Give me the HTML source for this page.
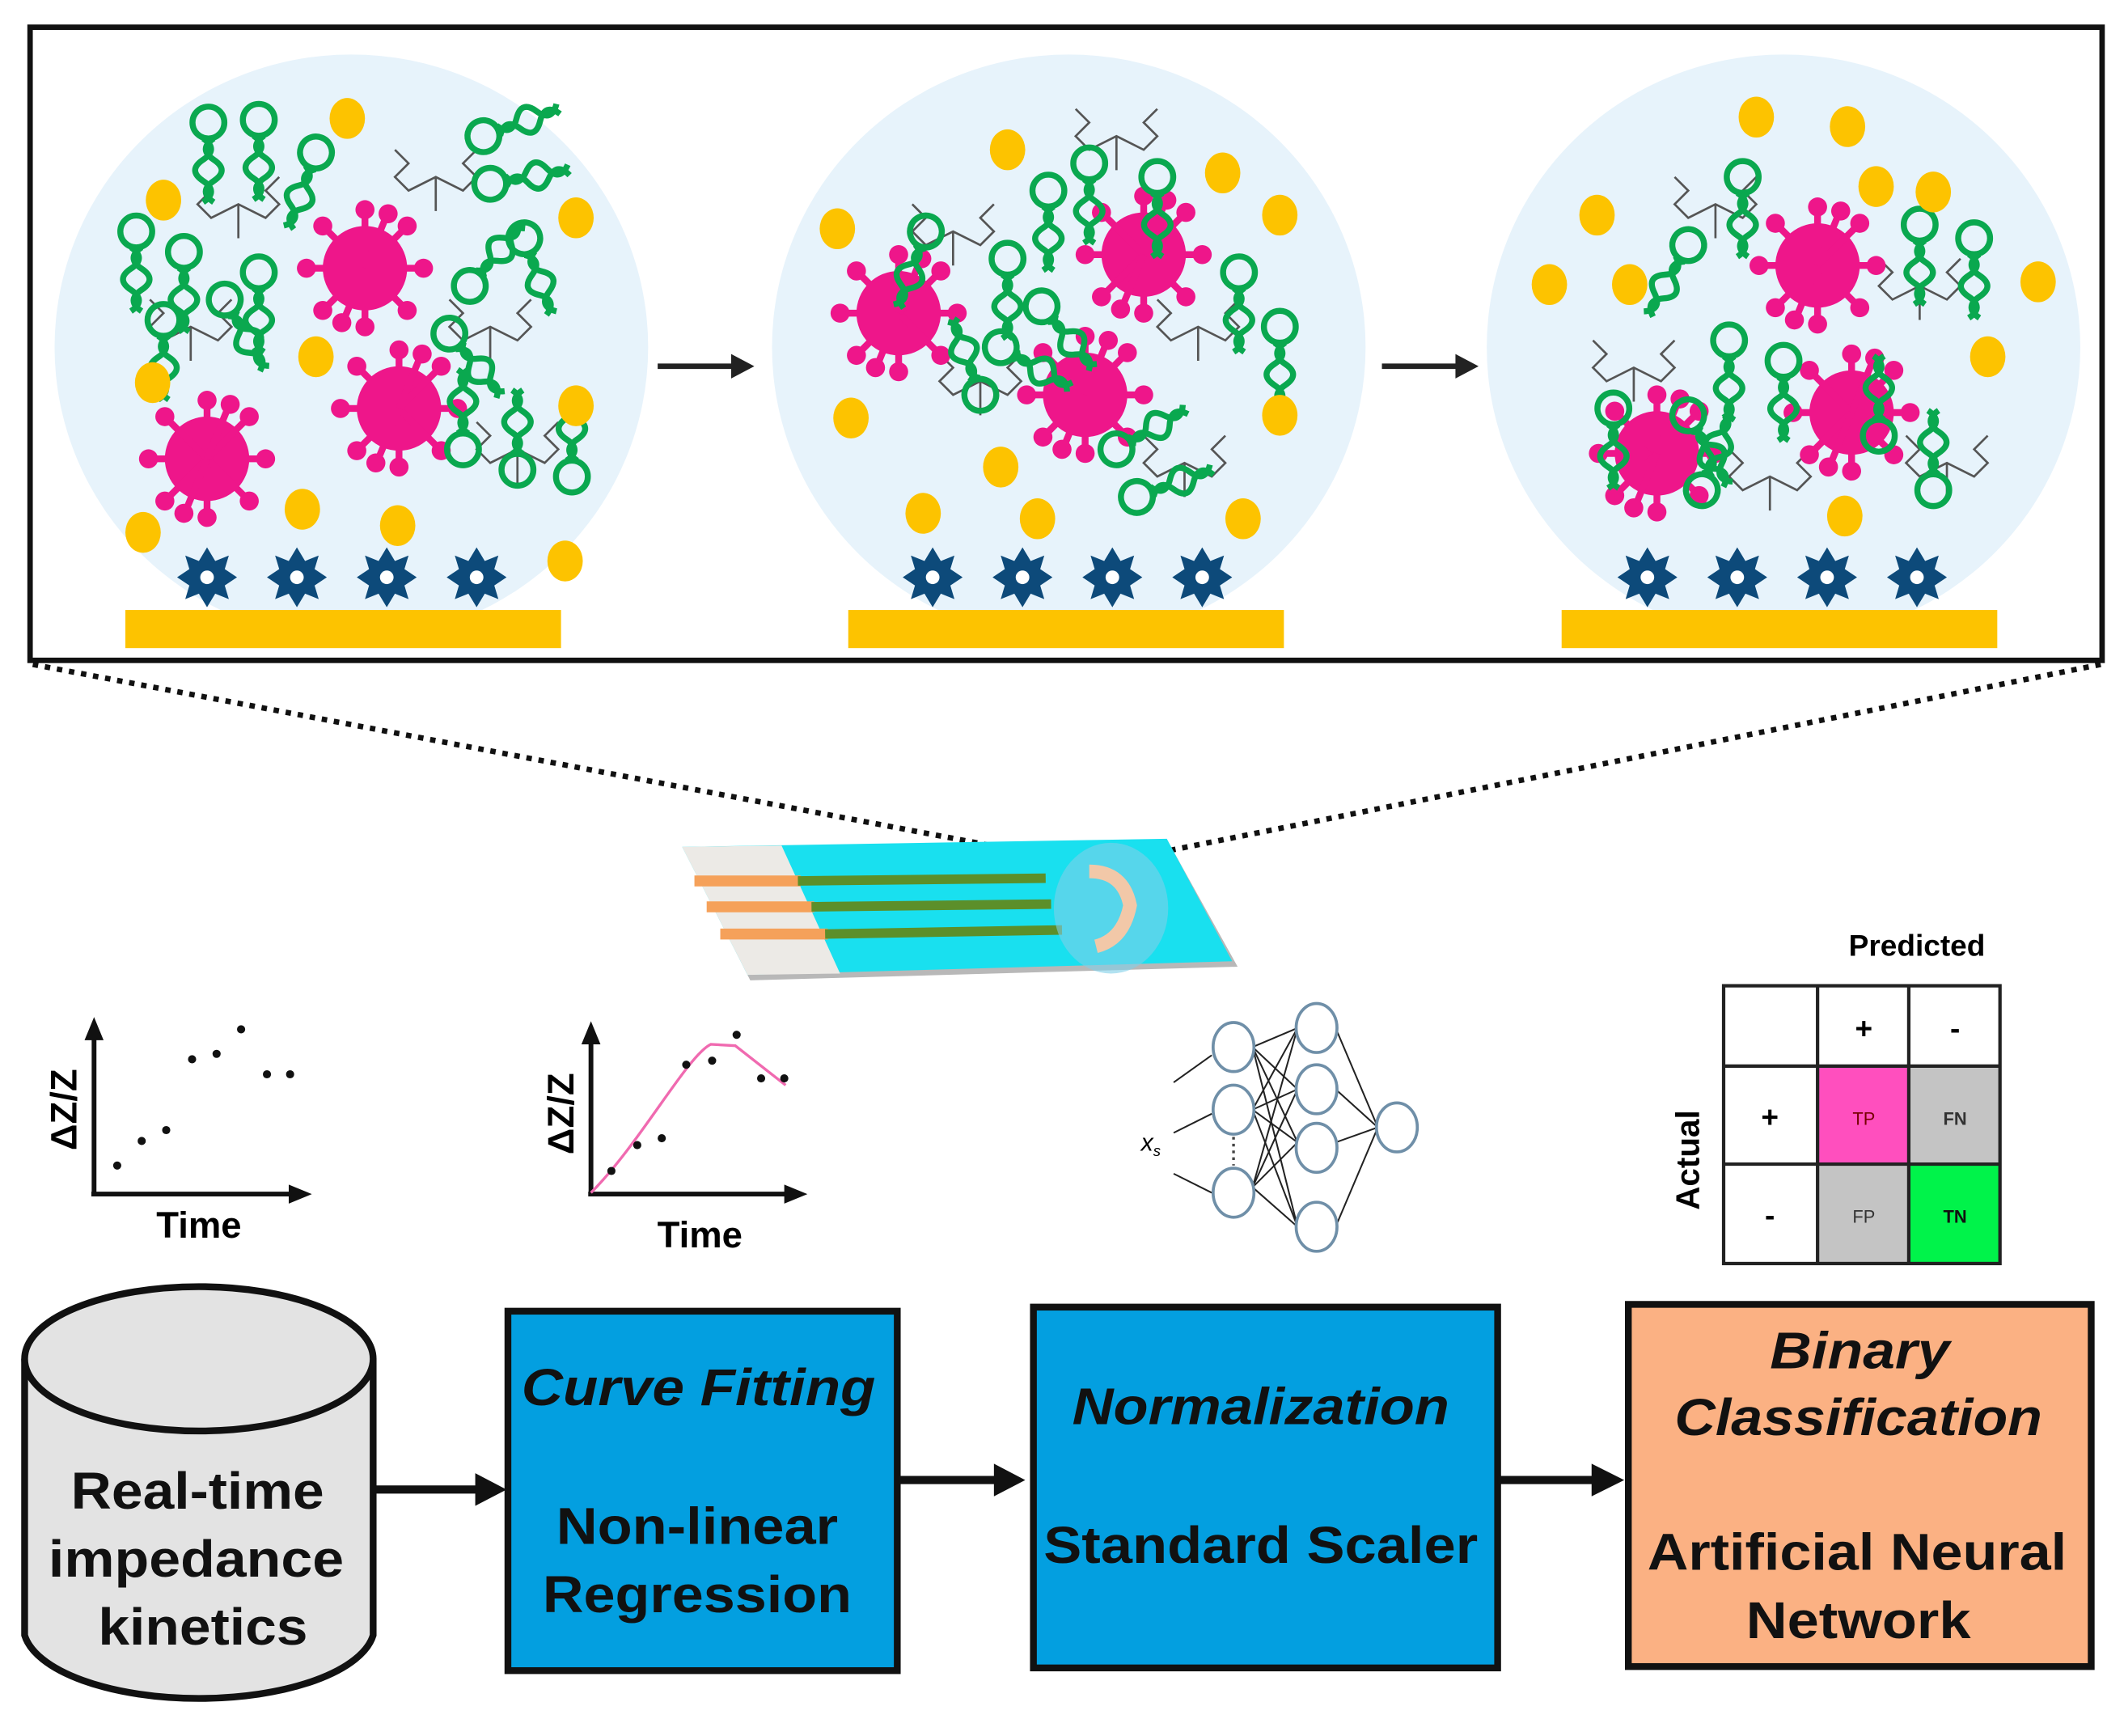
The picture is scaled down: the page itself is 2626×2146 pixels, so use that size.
<!DOCTYPE html>
<html><head><meta charset="utf-8"><style>
html,body{margin:0;padding:0;background:#fff;}
svg{display:block;}
text{font-family:"Liberation Sans",Arial,sans-serif;}
</style></head><body>
<svg width="2626" height="2146" viewBox="0 0 1560 1275" xmlns="http://www.w3.org/2000/svg">
<defs>
<g id="v">
 <g fill="#ee168a">
  <circle r="31"/>
  <g stroke="#ee168a" stroke-width="5">
   <line x1="0" y1="0" x2="0" y2="-42"/><line x1="0" y1="0" x2="0" y2="42"/>
   <line x1="0" y1="0" x2="-42" y2="0"/><line x1="0" y1="0" x2="42" y2="0"/>
   <line x1="0" y1="0" x2="30" y2="30"/><line x1="0" y1="0" x2="-30" y2="30"/>
   <line x1="0" y1="0" x2="30" y2="-30"/><line x1="0" y1="0" x2="-30" y2="-30"/>
   <line x1="0" y1="0" x2="16" y2="-39"/><line x1="0" y1="0" x2="-16" y2="39"/>
  </g>
  <circle cx="0" cy="-43" r="7"/><circle cx="0" cy="43" r="7"/><circle cx="-43" cy="0" r="7"/><circle cx="43" cy="0" r="7"/>
  <circle cx="31" cy="31" r="7"/><circle cx="-31" cy="31" r="7"/><circle cx="31" cy="-31" r="7"/><circle cx="-31" cy="-31" r="7"/>
  <circle cx="17" cy="-40" r="7"/><circle cx="-17" cy="40" r="7"/>
 </g>
</g>
<g id="a0" fill="none" stroke="#0aa84f" stroke-width="3.4">
 <circle cx="0" cy="0" r="9"/>
 <path d="M-3,9 q9,6 0,12 q-9,6 0,12 q9,6 0,12"/>
 <path d="M3,9 q-9,6 0,12 q9,6 0,12 q-9,6 0,12"/>
</g>
<g id="a"><use href="#a0" transform="scale(1.3)"/></g>
<g id="g">
 <polygon fill="#0d4a7a" points="0,-22 6,-12 16,-16 13,-6 22,0 13,6 16,16 6,12 0,22 -6,12 -16,16 -13,6 -22,0 -13,-6 -16,-16 -6,-12"/>
 <circle r="5" fill="#fff"/>
</g>
<g id="au"><ellipse rx="13" ry="15" fill="#fdc300"/></g>
<g id="ln" fill="none" stroke="#555" stroke-width="1.6">
 <path d="M-30,-20 L-20,-10 L-30,0 L-20,10 L0,0 L20,10 L30,0 L20,-10 L30,-20 M0,0 L0,25"/>
</g>
</defs>

<rect x="22" y="20" width="1522" height="465" fill="#fff" stroke="#111" stroke-width="4"/>

<ellipse cx="258" cy="255" rx="218" ry="215" fill="#e7f3fb"/>
<ellipse cx="785" cy="255" rx="218" ry="215" fill="#e7f3fb"/>
<ellipse cx="1310" cy="255" rx="218" ry="215" fill="#e7f3fb"/>

<rect x="92" y="448" width="320" height="28" fill="#fdc300"/>
<rect x="623" y="448" width="320" height="28" fill="#fdc300"/>
<rect x="1147" y="448" width="320" height="28" fill="#fdc300"/>

<use href="#g" x="152" y="424"/><use href="#g" x="218" y="424"/><use href="#g" x="284" y="424"/><use href="#g" x="350" y="424"/>
<use href="#g" x="685" y="424"/><use href="#g" x="751" y="424"/><use href="#g" x="817" y="424"/><use href="#g" x="883" y="424"/>
<use href="#g" x="1210" y="424"/><use href="#g" x="1276" y="424"/><use href="#g" x="1342" y="424"/><use href="#g" x="1408" y="424"/>

<use href="#ln" x="175" y="150"/><use href="#ln" x="140" y="240"/><use href="#ln" x="360" y="240"/><use href="#ln" x="320" y="130"/><use href="#ln" x="380" y="330"/>
<use href="#ln" x="700" y="170"/><use href="#ln" x="720" y="280"/><use href="#ln" x="880" y="240"/><use href="#ln" x="820" y="100"/><use href="#ln" x="870" y="340"/>
<use href="#ln" x="1260" y="150"/><use href="#ln" x="1200" y="270"/><use href="#ln" x="1410" y="210"/><use href="#ln" x="1300" y="350"/><use href="#ln" x="1430" y="340"/>

<use href="#v" x="268" y="197"/><use href="#v" x="152" y="337"/><use href="#v" x="293" y="300"/>
<use href="#v" x="660" y="230"/><use href="#v" x="840" y="187"/><use href="#v" x="797" y="290"/>
<use href="#v" x="1335" y="195"/><use href="#v" x="1360" y="303"/><use href="#v" x="1217" y="333"/>

<g>
<use href="#a" x="153" y="90"/><use href="#a" x="190" y="88"/><use href="#a" x="232" y="112" transform="rotate(20 232 112)"/>
<use href="#a" x="100" y="170"/><use href="#a" x="135" y="185"/><use href="#a" x="120" y="235"/><use href="#a" x="165" y="220" transform="rotate(-30 165 220)"/>
<use href="#a" x="355" y="100" transform="rotate(-110 355 100)"/><use href="#a" x="360" y="135" transform="rotate(-100 360 135)"/>
<use href="#a" x="345" y="210" transform="rotate(-140 345 210)"/><use href="#a" x="385" y="175" transform="rotate(-20 385 175)"/><use href="#a" x="330" y="245" transform="rotate(-40 330 245)"/>
<use href="#a" x="340" y="330" transform="rotate(180 340 330)"/><use href="#a" x="380" y="345" transform="rotate(180 380 345)"/><use href="#a" x="420" y="350" transform="rotate(180 420 350)"/>
<use href="#a" x="190" y="200"/>
<use href="#a" x="770" y="140"/><use href="#a" x="800" y="120"/><use href="#a" x="850" y="130"/><use href="#a" x="740" y="190"/><use href="#a" x="680" y="170" transform="rotate(20 680 170)"/>
<use href="#a" x="910" y="200"/><use href="#a" x="940" y="240"/><use href="#a" x="765" y="225" transform="rotate(-40 765 225)"/><use href="#a" x="735" y="255" transform="rotate(-60 735 255)"/>
<use href="#a" x="820" y="330" transform="rotate(-120 820 330)"/><use href="#a" x="835" y="365" transform="rotate(-110 835 365)"/><use href="#a" x="720" y="290" transform="rotate(160 720 290)"/>
<use href="#a" x="1280" y="130"/><use href="#a" x="1410" y="165"/><use href="#a" x="1450" y="175"/><use href="#a" x="1240" y="180" transform="rotate(30 1240 180)"/>
<use href="#a" x="1270" y="250"/><use href="#a" x="1310" y="265"/><use href="#a" x="1185" y="300"/><use href="#a" x="1240" y="305" transform="rotate(-30 1240 305)"/>
<use href="#a" x="1380" y="320" transform="rotate(180 1380 320)"/><use href="#a" x="1420" y="360" transform="rotate(180 1420 360)"/><use href="#a" x="1250" y="360" transform="rotate(200 1250 360)"/>
</g>

<use href="#au" x="255" y="87"/><use href="#au" x="120" y="147"/><use href="#au" x="423" y="160"/><use href="#au" x="232" y="262"/><use href="#au" x="112" y="281"/><use href="#au" x="423" y="298"/><use href="#au" x="222" y="374"/><use href="#au" x="105" y="391"/><use href="#au" x="292" y="386"/><use href="#au" x="415" y="412"/>
<use href="#au" x="740" y="110"/><use href="#au" x="898" y="127"/><use href="#au" x="615" y="168"/><use href="#au" x="940" y="158"/><use href="#au" x="625" y="307"/><use href="#au" x="940" y="305"/><use href="#au" x="735" y="343"/><use href="#au" x="678" y="377"/><use href="#au" x="762" y="381"/><use href="#au" x="913" y="381"/>
<use href="#au" x="1290" y="86"/><use href="#au" x="1357" y="93"/><use href="#au" x="1378" y="137"/><use href="#au" x="1420" y="141"/><use href="#au" x="1173" y="158"/><use href="#au" x="1138" y="209"/><use href="#au" x="1197" y="209"/><use href="#au" x="1497" y="207"/><use href="#au" x="1460" y="262"/><use href="#au" x="1355" y="379"/>

<g stroke="#222" stroke-width="4" fill="#222">
<line x1="483" y1="269" x2="540" y2="269"/><polygon points="537,260 554,269 537,278" stroke="none"/>
<line x1="1015" y1="269" x2="1072" y2="269"/><polygon points="1069,260 1086,269 1069,278" stroke="none"/>
</g>

<g stroke="#111" stroke-width="4" stroke-dasharray="4,5">
<line x1="24" y1="488" x2="765" y2="628"/>
<line x1="1543" y1="488" x2="842" y2="628"/>
</g>

<polygon points="505,628 859,620 909,710 551,720" fill="#b8b8b8"/>
<polygon points="501,622 857,616 905,706 549,716" fill="#19e0ef"/>
<polygon points="501,622 574,621 617,715 549,716" fill="#eceae6"/>
<g stroke="#f5a15a" stroke-width="8"><line x1="510" y1="647" x2="588" y2="647"/><line x1="519" y1="666" x2="598" y2="666"/><line x1="529" y1="686" x2="608" y2="686"/></g>
<g stroke="#5c8f2a" stroke-width="7"><line x1="586" y1="647" x2="768" y2="645"/><line x1="596" y1="666" x2="772" y2="664"/><line x1="606" y1="686" x2="780" y2="683"/></g>
<ellipse cx="816" cy="667" rx="42" ry="48" fill="#7fcfe8" opacity="0.6"/>
<path d="M800,640 q25,0 30,25 q-5,25 -25,30" fill="none" stroke="#f2c8a8" stroke-width="10"/>

<g stroke="#111" stroke-width="3.5" fill="#111">
<line x1="69" y1="877" x2="69" y2="762"/><polygon points="62,764 69,747 76,764" stroke="none"/>
<line x1="67" y1="877" x2="214" y2="877"/><polygon points="212,870 229,877 212,884" stroke="none"/>
</g>
<g fill="#111"><circle cx="86" cy="856" r="3"/><circle cx="104" cy="838" r="3"/><circle cx="122" cy="830" r="3"/><circle cx="141" cy="778" r="3"/><circle cx="159" cy="774" r="3"/><circle cx="177" cy="756" r="3"/><circle cx="196" cy="789" r="3"/><circle cx="213" cy="789" r="3"/></g>
<text x="0" y="0" transform="translate(56,815) rotate(-90)" font-size="27" font-weight="bold" text-anchor="middle">ΔZ/Z</text>
<text x="146" y="909" font-size="27" font-weight="bold" text-anchor="middle">Time</text>

<g stroke="#111" stroke-width="3.5" fill="#111">
<line x1="434" y1="877" x2="434" y2="765"/><polygon points="427,767 434,750 441,767" stroke="none"/>
<line x1="432" y1="877" x2="578" y2="877"/><polygon points="576,870 593,877 576,884" stroke="none"/>
</g>
<path d="M434,876 C470,840 505,775 522,767 L540,768 L577,797" fill="none" stroke="#f06ab0" stroke-width="2"/>
<g fill="#111"><circle cx="449" cy="860" r="3"/><circle cx="468" cy="841" r="3"/><circle cx="486" cy="836" r="3"/><circle cx="504" cy="782" r="3"/><circle cx="523" cy="779" r="3"/><circle cx="541" cy="760" r="3"/><circle cx="559" cy="792" r="3"/><circle cx="576" cy="792" r="3"/></g>
<text x="0" y="0" transform="translate(421,818) rotate(-90)" font-size="27" font-weight="bold" text-anchor="middle">ΔZ/Z</text>
<text x="514" y="916" font-size="27" font-weight="bold" text-anchor="middle">Time</text>

<g stroke="#222" stroke-width="1.2">
<line x1="920" y1="769" x2="953" y2="755"/><line x1="920" y1="769" x2="953" y2="800"/><line x1="920" y1="769" x2="953" y2="839"/><line x1="920" y1="769" x2="953" y2="901"/>
<line x1="920" y1="815" x2="953" y2="755"/><line x1="920" y1="815" x2="953" y2="800"/><line x1="920" y1="815" x2="953" y2="839"/><line x1="920" y1="815" x2="953" y2="901"/>
<line x1="920" y1="872" x2="953" y2="755"/><line x1="920" y1="872" x2="953" y2="800"/><line x1="920" y1="872" x2="953" y2="839"/><line x1="920" y1="872" x2="953" y2="901"/>
<line x1="981" y1="755" x2="1012" y2="828"/><line x1="981" y1="800" x2="1012" y2="828"/><line x1="981" y1="839" x2="1012" y2="828"/><line x1="981" y1="901" x2="1012" y2="828"/>
<line x1="862" y1="795" x2="890" y2="775"/><line x1="862" y1="832" x2="890" y2="818"/><line x1="862" y1="862" x2="890" y2="876"/>
</g>
<g fill="#fff" stroke="#6f8fa8" stroke-width="2.2">
<ellipse cx="906" cy="769" rx="15" ry="18"/><ellipse cx="906" cy="815" rx="15" ry="18"/><ellipse cx="906" cy="876" rx="15" ry="18"/>
<ellipse cx="967" cy="755" rx="15" ry="18"/><ellipse cx="967" cy="800" rx="15" ry="18"/><ellipse cx="967" cy="843" rx="15" ry="18"/><ellipse cx="967" cy="901" rx="15" ry="18"/>
<ellipse cx="1026" cy="828" rx="15" ry="18"/>
</g>
<line x1="906" y1="835" x2="906" y2="856" stroke="#444" stroke-width="2" stroke-dasharray="2,3"/>
<text x="838" y="845" font-size="18" font-style="italic" font-family="Liberation Serif">x<tspan font-size="11" dy="4">s</tspan></text>

<rect x="1335" y="783" width="67" height="72" fill="#ff4fbe"/>
<rect x="1402" y="783" width="67" height="72" fill="#c4c4c4"/>
<rect x="1335" y="855" width="67" height="73" fill="#c4c4c4"/>
<rect x="1402" y="855" width="67" height="73" fill="#00f34a"/>
<g stroke="#222" stroke-width="2.5" fill="none">
<rect x="1266" y="724" width="203" height="204"/>
<line x1="1266" y1="783" x2="1469" y2="783"/><line x1="1266" y1="855" x2="1469" y2="855"/>
<line x1="1335" y1="724" x2="1335" y2="928"/><line x1="1402" y1="724" x2="1402" y2="928"/>
</g>
<g font-weight="bold" text-anchor="middle">
<text x="1408" y="702" font-size="22">Predicted</text>
<text x="1369" y="763" font-size="22">+</text><text x="1436" y="763" font-size="22">-</text>
<text x="1300" y="828" font-size="22">+</text><text x="1300" y="900" font-size="22">-</text>
<text x="1369" y="826" font-size="13" font-weight="normal" fill="#700">TP</text><text x="1436" y="826" font-size="13" fill="#333">FN</text>
<text x="1369" y="898" font-size="13" font-weight="normal" fill="#333">FP</text><text x="1436" y="898" font-size="13" fill="#111">TN</text>
<text x="0" y="0" transform="translate(1248,852) rotate(-90)" font-size="24">Actual</text>
</g>

<path d="M18,998 L18,1201 A129,53 0 0 0 274,1201 L274,998" fill="#e3e3e3" stroke="#111" stroke-width="5"/>
<ellipse cx="146" cy="998" rx="128" ry="53" fill="#e3e3e3" stroke="#111" stroke-width="5"/>

<rect x="373" y="963" width="286" height="264" fill="#039fe0" stroke="#111" stroke-width="5"/>
<rect x="759" y="960" width="341" height="265" fill="#039fe0" stroke="#111" stroke-width="5"/>
<rect x="1196" y="958" width="340" height="266" fill="#fbb183" stroke="#111" stroke-width="5"/>

<g stroke="#111" stroke-width="6" fill="#111">
<line x1="276" y1="1094" x2="352" y2="1094"/><polygon points="349,1082 372,1094 349,1106" stroke="none"/>
<line x1="660" y1="1087" x2="733" y2="1087"/><polygon points="730,1075 753,1087 730,1099" stroke="none"/>
<line x1="1100" y1="1087" x2="1172" y2="1087"/><polygon points="1169,1075 1193,1087 1169,1099" stroke="none"/>
</g>

<g font-weight="bold" font-size="38" text-anchor="middle" fill="#111">
<text x="145" y="1108" textLength="186" lengthAdjust="spacingAndGlyphs">Real-time</text>
<text x="144" y="1158" textLength="217" lengthAdjust="spacingAndGlyphs">impedance</text>
<text x="149" y="1208" textLength="154" lengthAdjust="spacingAndGlyphs">kinetics</text>
<text x="513" y="1032" font-style="italic" textLength="260" lengthAdjust="spacingAndGlyphs">Curve Fitting</text>
<text x="512" y="1134" textLength="207" lengthAdjust="spacingAndGlyphs">Non-linear</text>
<text x="512" y="1184" textLength="227" lengthAdjust="spacingAndGlyphs">Regression</text>
<text x="926" y="1046" font-style="italic" textLength="277" lengthAdjust="spacingAndGlyphs">Normalization</text>
<text x="926" y="1148" textLength="319" lengthAdjust="spacingAndGlyphs">Standard Scaler</text>
<text x="1366" y="1005" font-style="italic" textLength="132" lengthAdjust="spacingAndGlyphs">Binary</text>
<text x="1365" y="1054" font-style="italic" textLength="270" lengthAdjust="spacingAndGlyphs">Classification</text>
<text x="1364" y="1153" textLength="308" lengthAdjust="spacingAndGlyphs">Artificial Neural</text>
<text x="1365" y="1203" textLength="165" lengthAdjust="spacingAndGlyphs">Network</text>
</g>
</svg>
</body></html>
